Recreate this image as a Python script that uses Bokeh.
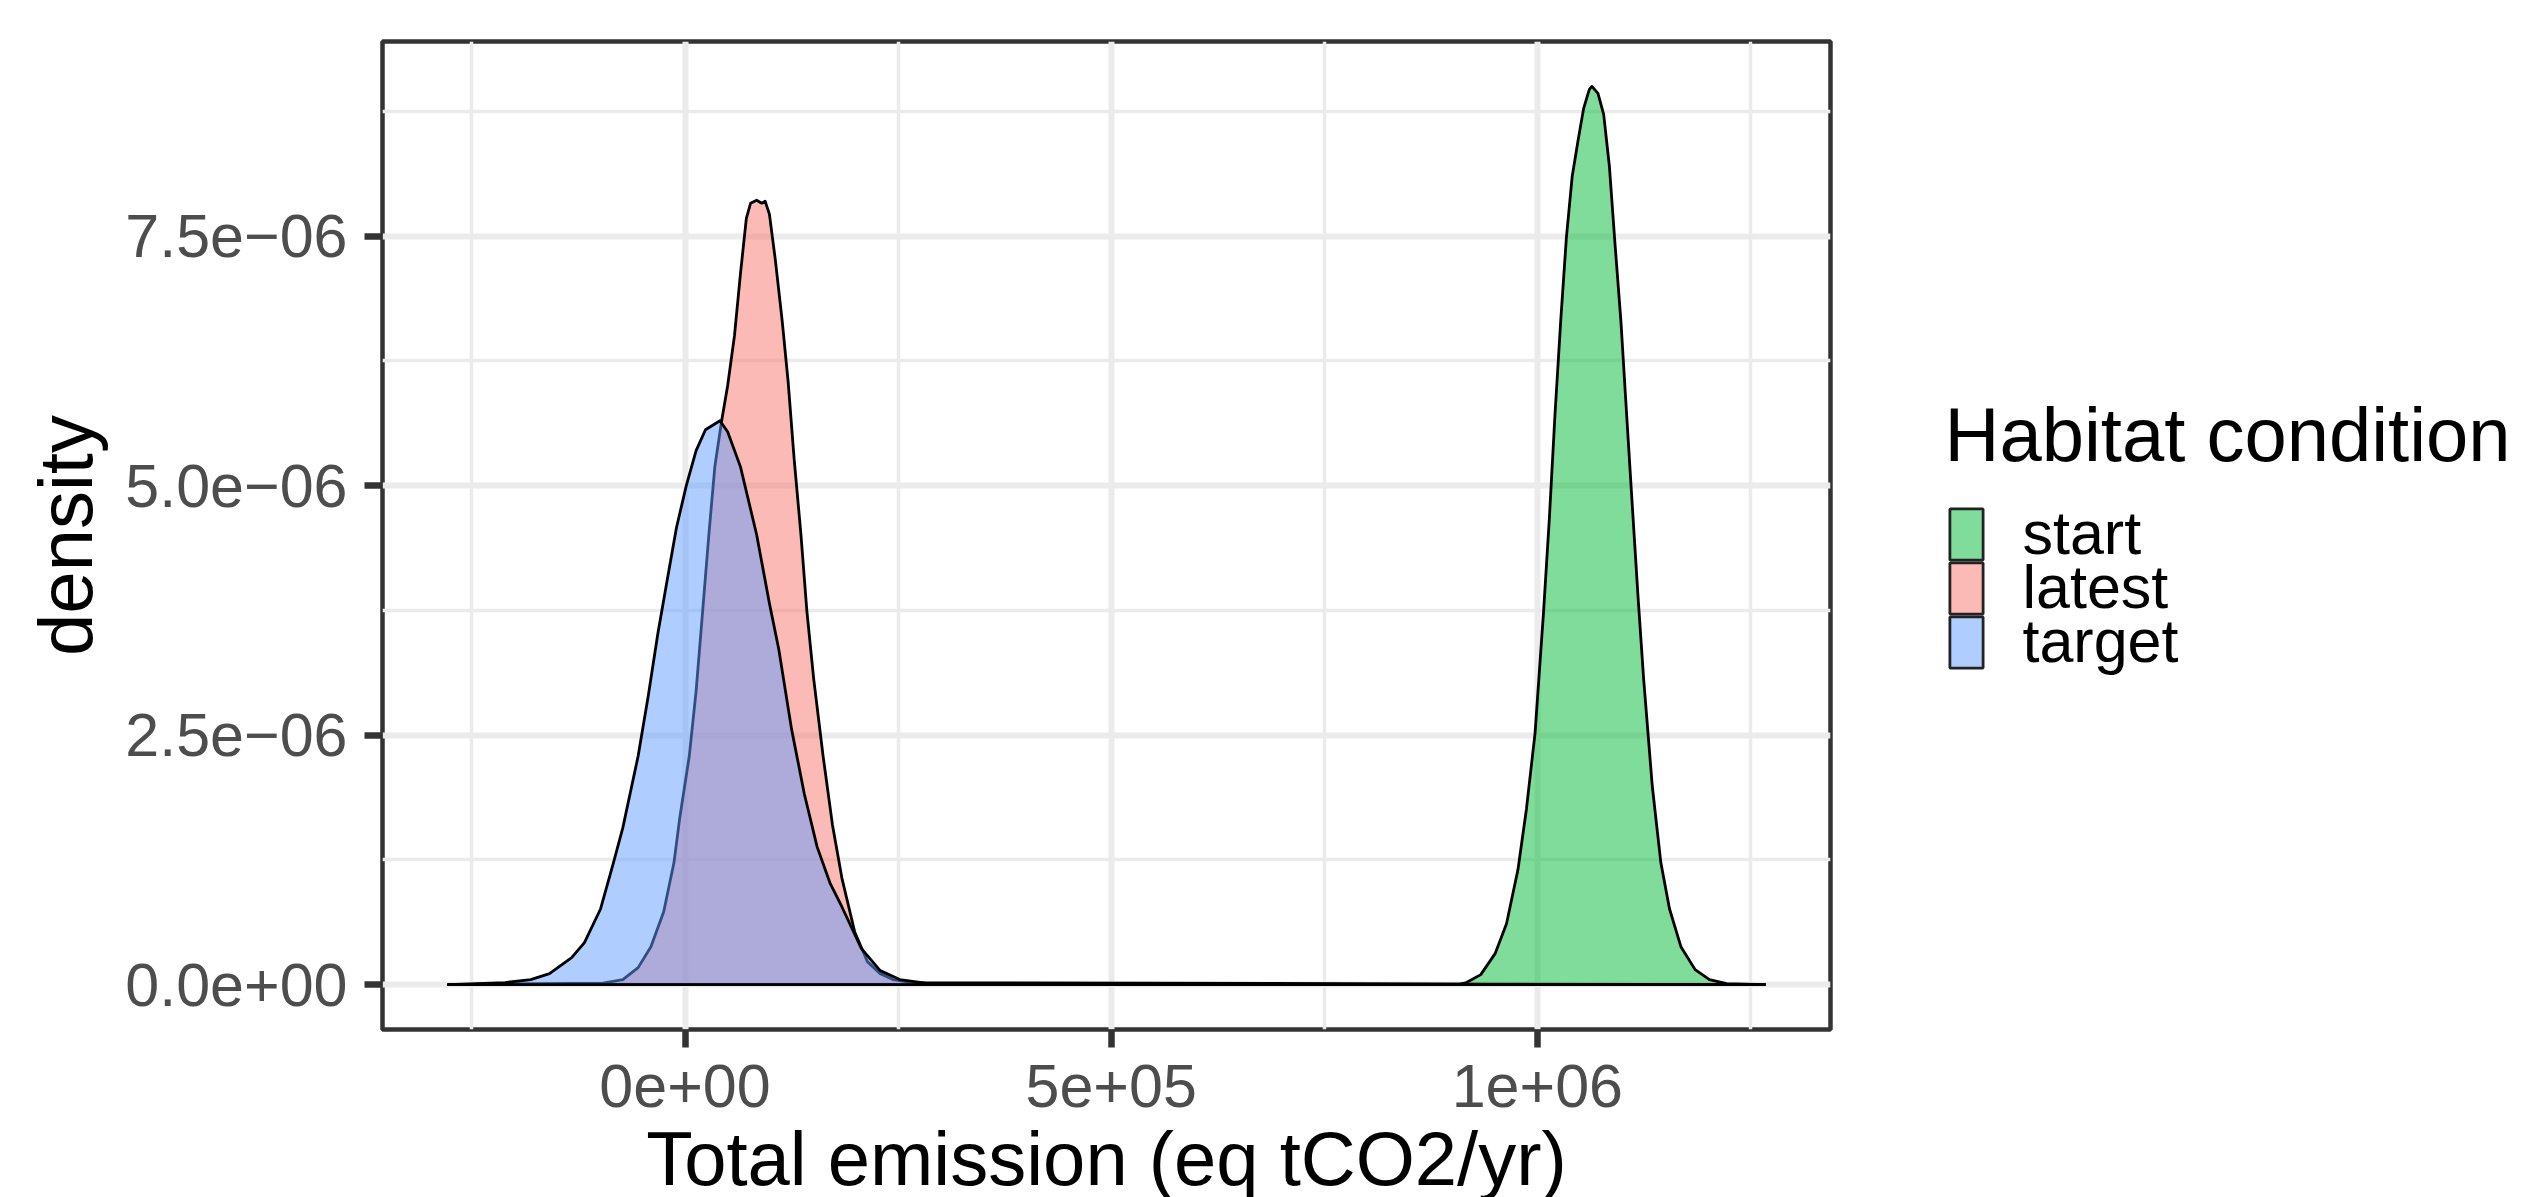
from bokeh.plotting import figure
from bokeh.layouts import row
from bokeh.models import Range1d, FixedTicker
from bokeh.core.properties import value
from bokeh.embed import file_html
from bokeh.resources import INLINE

# ---------------- data ----------------
# density values are given in units of 1e-6
latest_x = [-277700, -96000, -73000, -55000, -40000, -25000, -13000, -6000, 5000, 13000,
            20000, 28000, 35000, 43000, 50000, 58000, 65000, 72000, 77000, 84000,
            90000, 94000, 99000, 106000, 114000, 121000, 128000, 136000, 143000, 151000,
            162000, 173000, 184000, 199000, 214000, 229000, 244000, 267000, 1266700]
latest_density_e6 = [0, 0.015, 0.05, 0.17, 0.38, 0.73, 1.22, 1.68, 2.29, 2.94,
                     3.67, 4.51, 5.19, 5.65, 6.0, 6.5, 7.12, 7.68, 7.83, 7.86,
                     7.83, 7.85, 7.72, 7.26, 6.65, 6.04, 5.27, 4.51, 3.74, 3.06,
                     2.29, 1.60, 1.07, 0.53, 0.23, 0.11, 0.05, 0.02, 0]

start_x = [-277700, 906800, 916900, 933600, 950400, 963800, 977200, 987200, 997300, 1007300,
           1014000, 1020800, 1027400, 1034100, 1040900, 1047600, 1054300, 1061000, 1064000, 1071100,
           1077800, 1084500, 1091200, 1098000, 1104600, 1111300, 1118000, 1124700, 1134800, 1144900,
           1155000, 1168400, 1185100, 1201900, 1222000, 1266700]
start_density_e6 = [0, 0.0, 0.02, 0.10, 0.31, 0.61, 1.15, 1.76, 2.52, 3.74,
                    4.66, 5.73, 6.65, 7.49, 8.10, 8.45, 8.78, 8.97, 9.00, 8.93,
                    8.72, 8.20, 7.41, 6.65, 5.73, 4.81, 3.90, 3.06, 1.99, 1.22,
                    0.76, 0.38, 0.15, 0.05, 0.01, 0]

target_x = [-277700, -211000, -181000, -159000, -133000, -118000, -99000, -84000, -73000, -55000,
            -43000, -32000, -21000, -10000, 1500, 13000, 24000, 41000, 50000, 65000,
            84000, 99000, 110000, 125000, 140000, 155000, 170000, 184000, 207000, 229000,
            252000, 282000, 319000, 1266700]
target_density_e6 = [0, 0.02, 0.05, 0.11, 0.27, 0.42, 0.76, 1.22, 1.57, 2.29,
                     2.90, 3.51, 4.05, 4.58, 5.00, 5.35, 5.56, 5.65, 5.54, 5.19,
                     4.51, 3.82, 3.36, 2.56, 1.91, 1.38, 1.02, 0.78, 0.36, 0.14,
                     0.05, 0.015, 0.005, 0]

draw_order = ["latest", "start", "target"]
legend_order = ["start", "latest", "target"]
legend_title = "Habitat condition"
fill_colors = {"latest": "#F8766D", "start": "#00BA38", "target": "#619CFF"}

x_breaks = [0, 500000, 1000000]
x_tick_labels = ["0e+00", "5e+05", "1e+06"]
x_minor_breaks = [-250000, 250000, 750000, 1250000]
y_breaks = [0.0, 2.5e-6, 5.0e-6, 7.5e-6]
y_tick_labels = ["0.0e+00", "2.5e\u221206", "5.0e\u221206", "7.5e\u221206"]
y_minor_breaks = [1.25e-6, 3.75e-6, 6.25e-6, 8.75e-6]

series = {
    "latest": (latest_x, [v * 1e-6 for v in latest_density_e6]),
    "start": (start_x, [v * 1e-6 for v in start_density_e6]),
    "target": (target_x, [v * 1e-6 for v in target_density_e6]),
}

# ggplot-like 5% expansion
all_x = latest_x + start_x + target_x
all_y = [y for g in series for y in series[g][1]]
xmin, xmax = min(all_x), max(all_x)
xpad = 0.05 * (xmax - xmin)
ymax = max(all_y)
ypad = 0.05 * ymax

FONT = "Liberation Sans"
TICK_SIZE = "61px"
TITLE_SIZE = "76px"

# layout constants (pixels)
BORDER_LEFT, BORDER_TOP, BORDER_RIGHT, BORDER_BOTTOM = 382, 41, 20, 160
FRAME_W, FRAME_H = 1448, 988

p = figure(frame_width=FRAME_W, frame_height=FRAME_H,
           x_range=Range1d(xmin - xpad, xmax + xpad),
           y_range=Range1d(0 - ypad, ymax + ypad),
           output_backend="svg", toolbar_location=None,
           min_border_left=BORDER_LEFT, min_border_top=BORDER_TOP,
           min_border_right=BORDER_RIGHT, min_border_bottom=BORDER_BOTTOM)

p.background_fill_color = "white"
p.border_fill_color = "white"
p.outline_line_color = "#333333"
p.outline_line_width = 4.5

# ticks / grids
p.xaxis.ticker = FixedTicker(ticks=x_breaks, minor_ticks=x_minor_breaks)
p.yaxis.ticker = FixedTicker(ticks=y_breaks, minor_ticks=y_minor_breaks)
p.xaxis.major_label_overrides = {b: l for b, l in zip(x_breaks, x_tick_labels)}
p.yaxis.major_label_overrides = {b: l for b, l in zip(y_breaks, y_tick_labels)}

for g in (p.xgrid, p.ygrid):
    g.grid_line_color = "#EBEBEB"
    g.grid_line_width = 6
    g.minor_grid_line_color = "#EBEBEB"
    g.minor_grid_line_width = 3.5

for ax in (p.xaxis, p.yaxis):
    ax.axis_line_color = None
    ax.major_tick_line_color = "#333333"
    ax.major_tick_line_width = 6.5
    ax.major_tick_out = 18
    ax.major_tick_in = 0
    ax.minor_tick_line_color = None
    ax.major_label_text_font = FONT
    ax.major_label_text_font_size = TICK_SIZE
    ax.major_label_text_color = "#4D4D4D"
    ax.axis_label_text_font = FONT
    ax.axis_label_text_font_size = TITLE_SIZE
    ax.axis_label_text_font_style = "normal"
    ax.axis_label_text_color = "#000000"

p.xaxis.axis_label = "Total emission (eq tCO2/yr)"
p.yaxis.axis_label = "density"
p.xaxis.major_label_text_line_height = 1.0
p.xaxis.axis_label_text_line_height = 1.0
p.xaxis.major_label_standoff = 17
p.xaxis.axis_label_standoff = 6
p.yaxis.major_label_standoff = 17
p.yaxis.axis_label_standoff = 14

for g in draw_order:
    xs, ys = series[g]
    p.patch(xs, ys, fill_color=fill_colors[g], fill_alpha=0.5,
            line_color="black", line_width=2.8, line_join="round")

# ---------------- legend panel (separate figure, page-pixel coordinates) ----------------
# its frame is aligned with the main frame (page y from BORDER_TOP to BORDER_TOP+FRAME_H)
LEG_W = 668
KEY_LEFT, KEY_W, KEY_H, KEY_TOP = 98, 36, 54, 507
LABEL_X, TITLE_X, TITLE_BASE = 172, 94, 434
LABEL_OFFSET = -2

leg = figure(frame_width=LEG_W, frame_height=FRAME_H,
             x_range=Range1d(0, LEG_W), y_range=Range1d(BORDER_TOP + FRAME_H, BORDER_TOP),
             output_backend="svg", toolbar_location=None, x_axis_type=None, y_axis_type=None,
             min_border_left=0, min_border_right=0,
             min_border_top=BORDER_TOP, min_border_bottom=BORDER_BOTTOM)
leg.outline_line_color = None
leg.grid.visible = False
leg.background_fill_color = "white"
leg.border_fill_color = "white"

key_cx = [KEY_LEFT + KEY_W / 2] * len(legend_order)
key_cy = [KEY_TOP + KEY_H * (i + 0.5) for i in range(len(legend_order))]
leg.rect(x=key_cx, y=key_cy, width=KEY_W - 2.8, height=KEY_H - 2.8,
         fill_color=[fill_colors[g] for g in legend_order], fill_alpha=0.5,
         line_color="#222222", line_width=2.8)
leg.text(x=[LABEL_X] * len(legend_order), y=[c + LABEL_OFFSET for c in key_cy], text=legend_order,
         text_font=value(FONT), text_font_size=TICK_SIZE, text_color="#000000",
         text_baseline="alphabetic", text_align="left")
leg.text(x=[TITLE_X], y=[TITLE_BASE], text=[legend_title],
         text_font=value(FONT), text_font_size=TITLE_SIZE, text_color="#000000",
         text_baseline="alphabetic", text_align="left")

layout = row(p, leg)
open("out.html", "w").write(file_html(layout, INLINE))
